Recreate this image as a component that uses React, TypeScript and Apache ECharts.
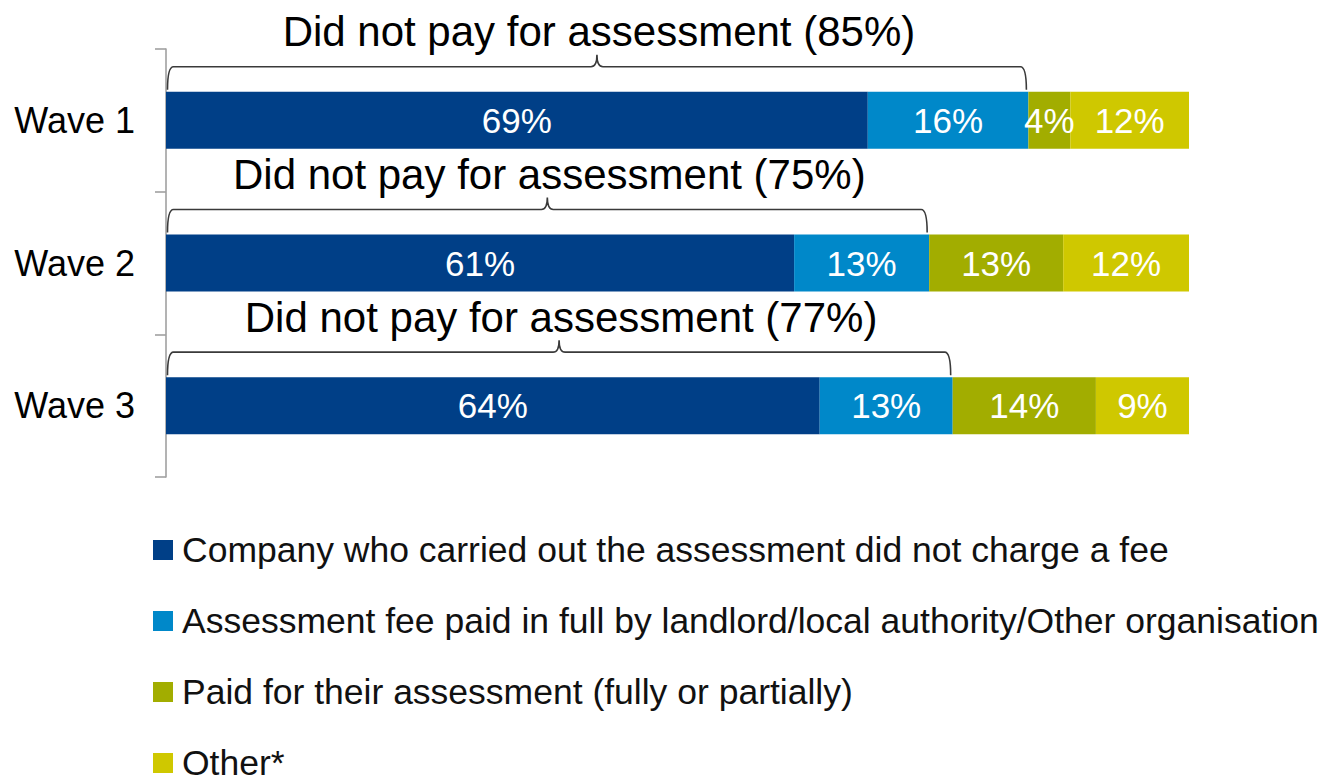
import { useEffect, useRef } from "react";
import * as echarts from "echarts";

const categories = ["Wave 1", "Wave 2", "Wave 3"];
const seriesNames = [
  "Company who carried out the assessment did not charge a fee",
  "Assessment fee paid in full by landlord/local authority/Other organisation",
  "Paid for their assessment (fully or partially)",
  "Other*",
];
const companyNoFee = [68.6, 61.4, 63.9];
const feePaidByOther = [15.7, 13.2, 13.0];
const paidThemselves = [4.1, 13.1, 14.0];
const other = [11.6, 12.3, 9.1];
const didNotPay = [85, 75, 77];

const colors = ["#003F87", "#0088C9", "#A2AD00", "#CFC800"];
const FONT = "'Liberation Sans', Arial, sans-serif";

export default function App() {
  const ref = useRef<HTMLDivElement>(null);
  useEffect(() => {
    if (!ref.current) return;
    const chart = echarts.init(ref.current, undefined, { renderer: "svg" });
    const values = [companyNoFee, feePaidByOther, paidThemselves, other];
    const bars = values.map((arr, k) => ({
      name: seriesNames[k],
      type: "bar",
      stack: "total",
      barWidth: "40%",
      data: arr,
      itemStyle: { color: colors[k] },
      label: {
        show: true,
        position: "inside",
        color: "#ffffff",
        fontSize: 35,
        fontFamily: FONT,
        formatter: (p: any) => Math.round(p.value) + "%",
      },
    }));
    const braceData = categories.map((_, i) => [
      companyNoFee[i] + feePaidByOther[i],
      i,
      didNotPay[i],
    ]);
    const braces = {
      type: "custom",
      name: "brace",
      clip: false,
      z: 5,
      encode: { x: 0, y: 1 },
      data: braceData,
      renderItem: (_params: any, api: any) => {
        const idx = api.value(1);
        const end = api.value(0);
        const pct = api.value(2);
        const a = api.coord([0, idx]);
        const b = api.coord([end, idx]);
        const band = api.size([0, 1])[1];
        const barTop = a[1] - band * 0.2;
        const x0 = a[0] + 1.5;
        const x1 = b[0] - 2;
        const xm = (x0 + x1) / 2;
        const yb = barTop - 2;
        const yh = barTop - 25;
        const yt = yh - 12;
        const r = 6;
        const d =
          `M${x0},${yb} Q${x0},${yh} ${x0 + r},${yh} L${xm - r},${yh} ` +
          `Q${xm},${yh} ${xm},${yt} Q${xm},${yh} ${xm + r},${yh} ` +
          `L${x1 - r},${yh} Q${x1},${yh} ${x1},${yb}`;
        return {
          type: "group",
          children: [
            {
              type: "path",
              shape: { pathData: d },
              style: { fill: "none", stroke: "#3a3a3a", lineWidth: 1.6 },
            },
            {
              type: "text",
              style: {
                text: `Did not pay for assessment (${pct}%)`,
                x: xm + 2,
                y: barTop - 60,
                align: "center",
                verticalAlign: "middle",
                fontSize: 42,
                fontFamily: FONT,
                fill: "#000000",
              },
            },
          ],
        };
      },
    };
    chart.setOption({
      animation: false,
      grid: { left: 166, right: 143, top: 49, bottom: 299, containLabel: false },
      legend: {
        orient: "vertical",
        left: 153,
        top: 532,
        height: 300,
        padding: 0,
        icon: "rect",
        itemWidth: 20,
        itemHeight: 20,
        itemGap: 35,
        data: seriesNames,
        textStyle: {
          fontSize: 35.5,
          color: "#111111",
          fontFamily: FONT,
          padding: [0, 0, 0, 4],
        },
      },
      xAxis: {
        type: "value",
        min: 0,
        max: 100,
        show: false,
      },
      yAxis: {
        type: "category",
        data: categories,
        inverse: true,
        axisLine: { show: true, lineStyle: { color: "#A0A0A0", width: 1.6 } },
        axisTick: { show: true, length: 11, lineStyle: { color: "#A0A0A0", width: 1.6 } },
        axisLabel: { fontSize: 36, color: "#000000", fontFamily: FONT, margin: 31 },
        splitLine: { show: false },
      },
      series: [...bars, braces],
    });
    return () => chart.dispose();
  }, []);
  return (
    <div
      ref={ref}
      style={{ position: "absolute", left: 0, top: 0, width: 1332, height: 776, background: "#ffffff" }}
    />
  );
}
